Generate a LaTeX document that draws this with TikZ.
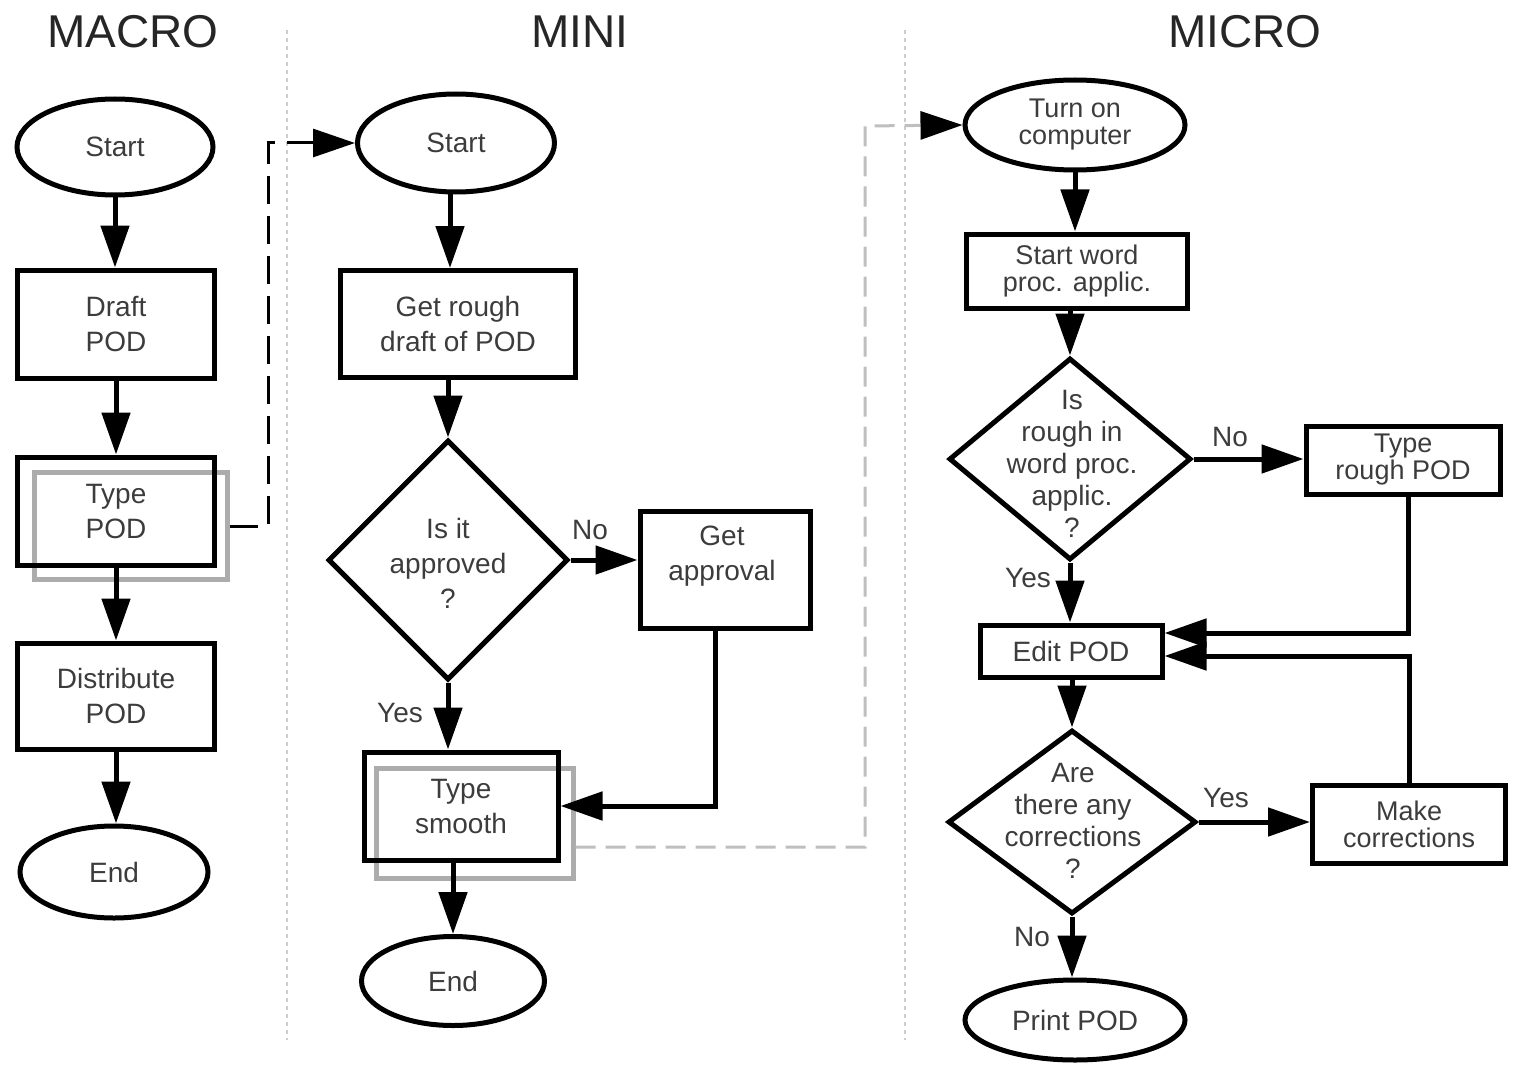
\documentclass[tikz,border=0pt]{standalone}
\usepackage{fontspec}
\setmainfont{Liberation Sans}
\usetikzlibrary{shapes.geometric,arrows.meta}
\definecolor{txtc}{HTML}{3C3C3C}
\begin{document}
\begin{tikzpicture}[x=0.5pt,y=-0.5pt,
  every node/.style={text=txtc, align=center, font=\fontsize{14}{17.5}\selectfont},
  shp/.style={draw=black, line width=2.5pt, inner sep=0pt},
  rbox/.style={shp, rectangle},
  oval/.style={shp, ellipse},
  dia/.style={shp, diamond},
  shadowbox/.style={draw=gray!65, line width=2.5pt, rectangle, inner sep=0pt},
  arr/.style={line width=2.5pt, -{Triangle[length=21pt,width=14pt]}},
  blackdash/.style={line width=1.5pt, dash pattern=on 14pt off 6pt, -{Triangle[length=21pt,width=14pt]}},
  graydash/.style={line width=1.5pt, draw=gray!50, dash pattern=on 10pt off 5pt, -{Triangle[length=21pt,width=14pt,color=black]}},
  sepline/.style={line width=1pt, draw=gray!40, dash pattern=on 2pt off 2pt},
  title/.style={font=\fontsize{23}{23}\selectfont, text=black!85},
  lbl/.style={font=\fontsize{14}{14}\selectfont},
  mtxt/.style={font=\fontsize{13.5}{13.5}\selectfont},
  dtxt/.style={font=\fontsize{14}{16}\selectfont}
]
\useasboundingbox (0,0) rectangle (1518,1064);

% separators
\coordinate (sa1) at (287,30); \coordinate (sa2) at (287,1040);
\coordinate (sb1) at (905,30); \coordinate (sb2) at (905,1040);
\draw[sepline] (sa1) -- (sa2);
\draw[sepline] (sb1) -- (sb2);

% titles
\node[title] (tmacro) at (133,32) {MACRO};
\node[title] (tmini) at (580,32) {MINI};
\node[title] (tmicro) at (1245,32) {MICRO};

% ---------------- MACRO
\node[oval, minimum width=98pt, minimum height=48pt] (s1) at (115,147) {Start};
\node[rbox, minimum width=98.5pt, minimum height=54pt] (d1) at (116,324) {Draft\\POD};
\node[shadowbox, minimum width=96.5pt, minimum height=53.5pt] (t1s) at (131,526) {};
\node[rbox, minimum width=98.5pt, minimum height=54pt] (t1) at (116,511) {Type\\POD};
\node[rbox, minimum width=98.5pt, minimum height=53pt] (di1) at (116,696) {Distribute\\POD};
\node[oval, minimum width=94pt, minimum height=46pt] (e1) at (114,872) {End};

\draw[arr] (s1.south) -- (s1.south |- d1.north);
\draw[arr] (d1.south) -- (d1.south |- t1.north);
\draw[arr] (t1.south) -- (t1.south |- di1.north);
\draw[arr] (di1.south) -- (di1.south |- e1.north);

% ---------------- MINI
\node[oval, minimum width=98.5pt, minimum height=49pt] (s2) at (456,143) {Start};
\node[rbox, minimum width=117.5pt, minimum height=53.5pt] (g2) at (458,324) {Get rough\\draft of POD};
\node[dia, minimum width=120pt, minimum height=120pt] (q2) at (448,560) {};
\node (q2t) at (448,563) {Is it\\approved\\?};
\node[rbox, minimum width=85pt, minimum height=58.5pt] (a2) at (725,570) {};
\node (a2t) at (722,556) {Get\\approval};
\node[shadowbox, minimum width=98.5pt, minimum height=55pt] (ts2s) at (474.5,823) {};
\node[rbox, minimum width=97pt, minimum height=54pt] (ts2) at (461,806) {Type\\smooth};
\node[oval, minimum width=91.5pt, minimum height=44.5pt] (e2) at (453,981) {End};

\draw[arr] ([xshift=-3pt]s2.south) -- ([xshift=-3pt]s2.south |- g2.north);
\draw[arr] (g2.south -| q2.north) -- (q2.north);
\draw[arr] (q2.south) -- (q2.south |- ts2.north);
\draw[arr] (ts2.south -| e2.north) -- (e2.north);
\draw[arr] (q2.east) -- (q2.east -| a2.west);
\draw[arr] ([xshift=-5pt]a2.south) |- (ts2.east);
\node[lbl] (no2) at (590,530) {No};
\node[lbl] (yes2) at (400,713) {Yes};

% dashed links
\coordinate (k1) at (268,143);
\draw[blackdash] (t1s.east) -| (k1) -- (s2.west);

% ---------------- MICRO
\node[oval, minimum width=110pt, minimum height=45pt, mtxt] (tc) at (1075,125) {Turn on\\computer};
\node[rbox, minimum width=110.5pt, minimum height=37pt, mtxt] (sw) at (1077,271) {Start word\\proc. applic.};
\node[dia, minimum width=121pt, minimum height=101pt] (q3) at (1070,459) {};
\node[dtxt] (q3t) at (1072,464) {Is\\rough in\\word proc.\\applic.\\?};
\node[rbox, minimum width=97pt, minimum height=34pt, mtxt] (tr) at (1403,460) {Type\\rough POD};
\node[rbox, minimum width=91pt, minimum height=26pt] (ep) at (1071,651) {Edit POD};
\node[dia, minimum width=124pt, minimum height=92pt] (q4) at (1072,822) {};
\node[dtxt] (q4t) at (1073,821) {Are\\there any\\corrections\\?};
\node[rbox, minimum width=96.5pt, minimum height=39pt, mtxt] (mc) at (1409,824) {Make\\corrections};
\node[oval, minimum width=110pt, minimum height=40pt] (pp) at (1075,1020) {Print POD};

\draw[graydash] ([yshift=-12pt]ts2s.east) -| (865,126) -- (tc.west);

\draw[arr] (tc.south) -- (tc.south |- sw.north);
\draw[arr] (sw.south -| q3.north) -- (q3.north);
\draw[arr] (q3.east) -- (q3.east -| tr.west);
\draw[arr] (q3.south) -- (q3.south |- ep.north);
\draw[arr] ([xshift=2.5pt]tr.south) |- ([yshift=9pt]ep.east);
\draw[arr] (mc.north) |- ([yshift=-2.5pt]ep.east);
\draw[arr] (ep.south -| q4.north) -- (q4.north);
\draw[arr] (q4.east) -- (q4.east -| mc.west);
\draw[arr] (q4.south) -- (q4.south |- pp.north);

\node[lbl] (no3) at (1230,437) {No};
\node[lbl] (yes3) at (1028,578) {Yes};
\node[lbl] (yes4) at (1226,798) {Yes};
\node[lbl] (no4) at (1032,937) {No};
\end{tikzpicture}
\end{document}
